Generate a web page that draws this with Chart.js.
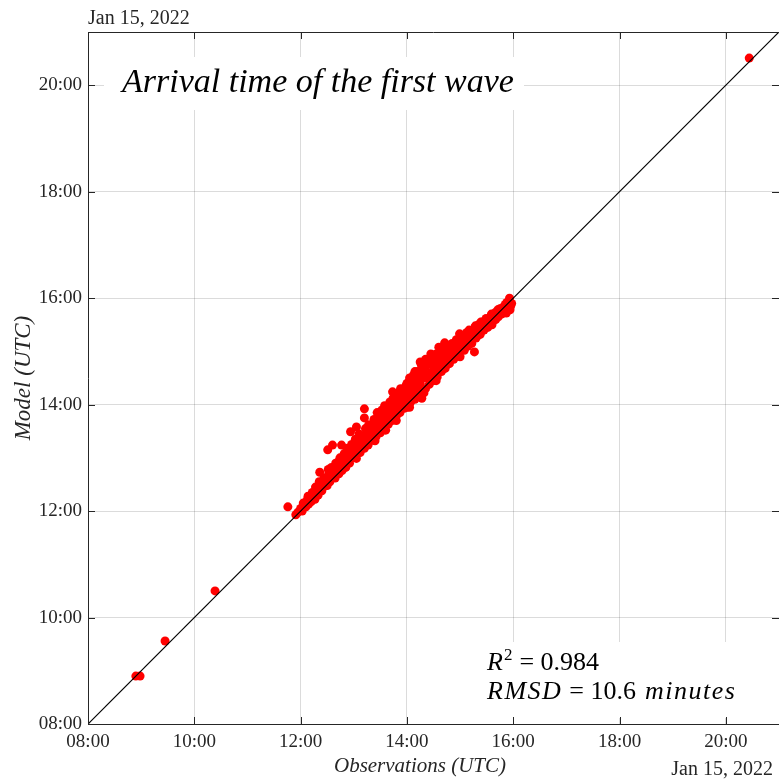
<!DOCTYPE html>
<html>
<head>
<meta charset="utf-8">
<script src="https://cdn.jsdelivr.net/npm/chart.js@4.4.0/dist/chart.umd.min.js"></script>
<style>
  html, body { margin: 0; padding: 0; background: #fff; }
  canvas { display: block; }
</style>
</head>
<body>
<canvas id="myChart" width="779" height="780"></canvas>
<script>
// arrival times, decimal hours UTC on Jan 15, 2022
var obsTimes = [
  8.90, 8.98, 9.45, 10.39, 20.44,
  11.76, 11.91, 11.95, 12.00, 12.03, 12.06, 12.10, 12.12, 12.15, 12.18,
  12.20, 12.24, 12.27, 12.30, 12.33, 12.36, 12.36, 12.40, 12.42, 12.45,
  12.48, 12.50, 12.51, 12.53, 12.55, 12.58, 12.60, 12.62, 12.65, 12.68,
  12.70, 12.72, 12.75, 12.77, 12.78, 12.80, 12.83, 12.85, 12.88, 12.90,
  12.92, 12.94, 12.95, 12.98, 13.00, 13.02, 13.05, 13.05, 13.08, 13.10,
  13.12, 13.15, 13.18, 13.20, 13.20, 13.20, 13.23, 13.25, 13.27, 13.30,
  13.32, 13.35, 13.37, 13.40, 13.42, 13.45, 13.47, 13.50, 13.52, 13.55,
  13.57, 13.60, 13.62, 13.65, 13.67, 13.70, 13.72, 13.73, 13.75, 13.77,
  13.80, 13.82, 13.85, 13.87, 13.90, 13.92, 13.95, 13.97, 14.00, 14.00,
  14.02, 14.05, 14.07, 14.10, 14.12, 14.15, 14.17, 14.20, 14.22, 14.25,
  14.27, 14.28, 14.30, 14.33, 14.35, 14.38, 14.40, 14.42, 14.45, 14.48,
  14.50, 14.52, 14.55, 14.57, 14.60, 14.62, 14.65, 14.67, 14.70, 14.71,
  14.72, 14.75, 14.78, 14.80, 14.82, 14.85, 14.88, 14.90, 14.93, 14.95,
  14.97, 14.99, 15.00, 15.02, 15.05, 15.08, 15.10, 15.12, 15.15, 15.18,
  15.20, 15.22, 15.25, 15.27, 15.28, 15.30, 15.33, 15.35, 15.38, 15.40,
  15.42, 15.45, 15.48, 15.50, 15.52, 15.55, 15.58, 15.60, 15.61, 15.63,
  15.65, 15.67, 15.70, 15.72, 15.75, 15.78, 15.80, 15.82, 15.85, 15.87,
  15.88, 15.90, 15.92, 15.93, 15.95, 15.97,
  12.05, 12.14, 12.22, 12.28, 12.35, 12.44, 12.52, 12.58, 12.66, 12.74,
  12.82, 12.88, 12.96, 13.03, 13.10, 13.14, 13.22, 13.28, 13.33, 13.38,
  13.44, 13.48, 13.53, 13.58, 13.63, 13.68, 13.74, 13.78, 13.83, 13.88,
  13.93, 13.98, 14.03, 14.06, 14.10, 14.14, 14.18, 14.23, 14.26, 14.31,
  14.36, 14.40, 14.44, 14.49, 14.53, 14.58, 14.63, 14.68, 14.73, 14.77,
  14.83, 14.87, 14.92, 14.96, 15.03, 15.07, 15.13, 15.17, 15.23, 15.29,
  15.34, 15.39, 15.44, 15.49, 15.54, 15.59, 15.66, 15.71, 15.76, 15.83,
  15.89, 15.94, 13.40, 13.60, 13.80, 14.05, 14.32, 14.55, 14.15, 14.35,
  14.45, 14.25, 14.60, 13.50, 13.70, 13.90, 14.20, 14.50, 14.80, 15.10
];
var modelTimes = [
  8.90, 8.90, 9.56, 10.50, 20.51,
  12.08, 11.93, 11.98, 12.05, 12.00, 12.12, 12.08, 12.20, 12.13, 12.25,
  12.18, 12.30, 12.22, 12.40, 12.30, 12.73, 12.45, 12.38, 12.52, 12.47,
  12.60, 12.48, 13.15, 12.70, 12.55, 12.64, 13.24, 12.75, 12.62, 12.78,
  12.92, 12.70, 12.85, 13.24, 12.76, 12.98, 12.88, 12.82, 13.05, 12.95,
  12.90, 13.49, 13.12, 13.00, 13.22, 13.05, 13.58, 12.99, 13.15, 13.30,
  13.10, 13.25, 13.40, 13.92, 13.75, 13.18, 13.35, 13.50, 13.24, 13.42,
  13.60, 13.33, 13.50, 13.68, 13.40, 13.55, 13.75, 13.47, 13.62, 13.80,
  13.55, 13.70, 13.90, 13.63, 13.78, 13.98, 13.70, 14.24, 13.85, 14.05,
  13.78, 13.95, 14.15, 13.85, 14.02, 14.25, 13.93, 14.10, 14.40, 13.95,
  14.20, 14.50, 14.05, 14.30, 14.55, 14.10, 14.35, 14.62, 14.18, 14.40,
  14.75, 14.12, 14.50, 14.80, 14.30, 14.55, 14.85, 14.38, 14.60, 14.90,
  14.45, 14.68, 14.95, 14.52, 14.75, 15.00, 14.62, 14.82, 15.05, 15.16,
  14.68, 14.90, 15.10, 14.77, 14.95, 15.15, 14.85, 15.05, 15.22, 14.92,
  15.10, 15.33, 14.90, 15.15, 15.25, 15.02, 15.22, 15.35, 15.10, 15.28,
  15.38, 15.15, 15.32, 14.99, 15.45, 15.25, 15.40, 15.50, 15.32, 15.45,
  15.55, 15.40, 15.52, 15.60, 15.45, 15.58, 15.65, 15.50, 15.55, 15.68,
  15.72, 15.60, 15.75, 15.65, 15.80, 15.70, 15.82, 15.75, 15.88, 15.72,
  15.92, 15.80, 15.95, 16.00, 15.85, 15.90,
  12.15, 12.28, 12.35, 12.45, 12.55, 12.62, 12.78, 12.82, 12.90, 13.00,
  13.08, 13.18, 13.25, 13.35, 13.45, 13.20, 13.55, 13.62, 13.45, 13.72,
  13.85, 13.62, 13.90, 13.98, 13.78, 14.05, 14.12, 13.92, 14.22, 14.30,
  14.08, 14.35, 14.12, 14.38, 14.45, 14.22, 14.52, 14.60, 14.30, 14.65,
  14.72, 14.50, 14.78, 14.82, 14.58, 14.88, 14.72, 14.95, 14.80, 15.00,
  14.88, 15.08, 14.98, 15.20, 15.05, 15.30, 15.18, 15.40, 15.26, 15.48,
  15.30, 15.55, 15.48, 15.62, 15.50, 15.70, 15.62, 15.78, 15.74, 15.84,
  15.86, 15.78, 13.32, 13.52, 13.70, 13.95, 14.22, 14.45, 14.62, 14.85,
  14.95, 14.80, 15.08, 13.70, 13.95, 14.18, 14.45, 14.72, 14.98, 15.25
];
var refLine = [8, 21];            // 1:1 line ends (hours)
var xTickHours = [8, 10, 12, 14, 16, 18, 20];
var yTickHours = [8, 10, 12, 14, 16, 18, 20];
var dateLabel = 'Jan 15, 2022';
var titleText = 'Arrival time of the first wave';
var r2Text = '0.984';
var rmsdText = '10.6';

var serif = "'Liberation Serif', 'DejaVu Serif', serif";
var ink = '#262626';
Chart.defaults.font.family = serif;
Chart.defaults.color = ink;

var points = [];
for (let i = 0; i < obsTimes.length; i++) {
  points.push({ x: obsTimes[i], y: modelTimes[i] });
}

function hourLabel(v) {
  return (v < 10 ? '0' : '') + v + ':00';
}

// draws a row of text pieces in different fonts
function drawRuns(ctx, x, y, runs) {
  runs.forEach(function(r) {
    ctx.font = r.f;
    ctx.letterSpacing = r.ls || '0px';
    var dy = r.dy || 0;
    ctx.fillText(r.t, x, y + dy);
    x += ctx.measureText(r.t).width + (r.gap || 0);
  });
  ctx.letterSpacing = '0px';
}

var decor = {
  id: 'decor',
  beforeDatasetsDraw: function(chart) {
    var ctx = chart.ctx;
    var a = chart.chartArea;
    ctx.save();
    // white boxes behind the texts, they cut the grid
    ctx.fillStyle = '#fff';
    ctx.fillRect(104, 57, 420, 53);
    ctx.fillRect(470, 642, a.right - 470, 76);
    ctx.fillStyle = '#000';
    ctx.textBaseline = 'alphabetic';
    ctx.font = 'italic 34px ' + serif;
    ctx.fillText(titleText, 122, 92);
    var it = 'italic 26px ' + serif;
    var rm = '26px ' + serif;
    drawRuns(ctx, 487, 670, [
      { t: 'R', f: it, gap: 1 },
      { t: '2', f: '17px ' + serif, dy: -10, gap: 7 },
      { t: '= ' + r2Text, f: rm }
    ]);
    drawRuns(ctx, 487, 699, [
      { t: 'RMSD', f: it, ls: '1.5px', gap: 7 },
      { t: '= ' + rmsdText, f: rm, gap: 9 },
      { t: 'minutes', f: it, ls: '1.5px' }
    ]);
    ctx.restore();
  },
  afterDraw: function(chart) {
    var ctx = chart.ctx;
    var a = chart.chartArea;
    var xs = chart.scales.x, ys = chart.scales.y;
    ctx.save();
    ctx.strokeStyle = ink;
    ctx.lineWidth = 1;
    ctx.beginPath();
    // top border
    ctx.moveTo(a.left, a.top + 0.5);
    ctx.lineTo(a.right, a.top + 0.5);
    // inward tick marks on all four sides
    xTickHours.forEach(function(h) {
      var px = Math.round(xs.getPixelForValue(h)) + 0.5;
      ctx.moveTo(px, a.bottom); ctx.lineTo(px, a.bottom - 7);
      ctx.moveTo(px, a.top); ctx.lineTo(px, a.top + 7);
    });
    yTickHours.forEach(function(h) {
      var py = Math.round(ys.getPixelForValue(h)) + 0.5;
      ctx.moveTo(a.left, py); ctx.lineTo(a.left + 7, py);
      ctx.moveTo(a.right, py); ctx.lineTo(a.right - 7, py);
    });
    ctx.stroke();

    ctx.fillStyle = ink;
    ctx.font = '20px ' + serif;
    ctx.textBaseline = 'alphabetic';
    ctx.textAlign = 'left';
    ctx.fillText(dateLabel, a.left, 24);
    ctx.textAlign = 'right';
    ctx.fillText(dateLabel, 773, 775);

    ctx.textAlign = 'center';
    ctx.font = 'italic 21px ' + serif;
    ctx.fillText('Observations (UTC)', 420, 772);
    ctx.translate(30, (a.top + a.bottom) / 2);
    ctx.rotate(-Math.PI / 2);
    ctx.font = 'italic 23px ' + serif;
    ctx.fillText('Model (UTC)', 0, 0);
    ctx.restore();
  }
};

var ctx = document.getElementById('myChart').getContext('2d');
var myChart = new Chart(ctx, {
  type: 'scatter',
  data: {
    datasets: [
      {
        type: 'line',
        data: refLine.map(function(v) { return { x: v, y: v }; }),
        borderColor: '#000',
        borderWidth: 1.2,
        pointRadius: 0,
        fill: false,
        order: 1
      },
      {
        data: points,
        backgroundColor: '#ff0000',
        borderWidth: 0,
        pointRadius: 4.5,
        order: 2
      }
    ]
  },
  options: {
    responsive: false,
    animation: false,
    devicePixelRatio: 1,
    layout: { autoPadding: false, padding: { top: 32, right: 0, left: 0, bottom: 0 } },
    plugins: {
      legend: { display: false },
      tooltip: { enabled: false }
    },
    scales: {
      x: {
        type: 'linear',
        position: 'bottom',
        min: 8,
        max: 21,
        afterBuildTicks: function(s) {
          s.ticks = xTickHours.map(function(v) { return { value: v }; });
        },
        afterFit: function(s) { s.height = 56; },
        grid: { color: 'rgba(0,0,0,0.14)', drawTicks: false },
        border: { display: true, color: ink, width: 1 },
        ticks: {
          font: { size: 19 },
          color: ink,
          padding: 7,
          maxRotation: 0,
          callback: hourLabel
        }
      },
      y: {
        type: 'linear',
        min: 8,
        max: 21,
        afterBuildTicks: function(s) {
          s.ticks = yTickHours.map(function(v) { return { value: v }; });
        },
        afterFit: function(s) { s.width = 88; },
        grid: { color: 'rgba(0,0,0,0.14)', drawTicks: false },
        border: { display: true, color: ink, width: 1 },
        ticks: {
          font: { size: 19 },
          color: ink,
          padding: 6,
          callback: hourLabel
        }
      }
    }
  },
  plugins: [decor]
});
</script>
</body>
</html>
